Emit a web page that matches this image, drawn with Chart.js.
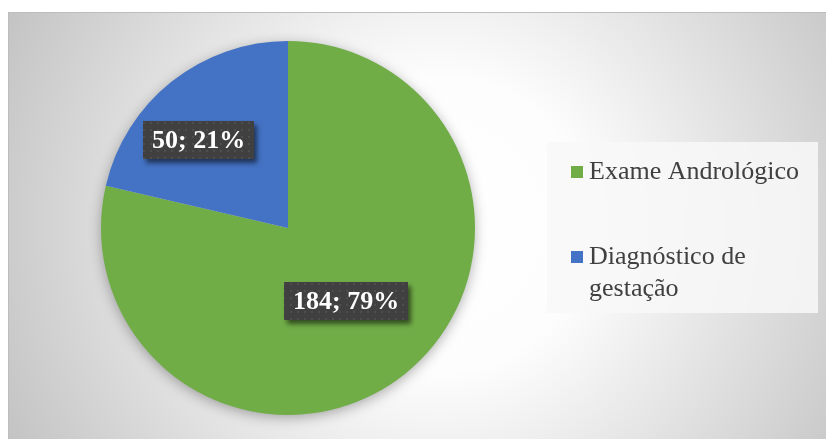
<!DOCTYPE html>
<html>
<head>
<meta charset="utf-8">
<script src="https://cdn.jsdelivr.net/npm/chart.js@4.4.1/dist/chart.umd.min.js"></script>
<style>
  body { margin: 0; background: #fff; }
  canvas { display: block; }
</style>
</head>
<body>
<canvas id="pie_graph"></canvas>
<script>
// dados do gráfico
var categorias = ['Exame Andrológico', 'Diagnóstico de gestação'];
var legendaLinhas = [['Exame Andrológico'], ['Diagnóstico de', 'gestação']];
var quantidades = [184, 50];
var cores = ['#70AD47', '#4472C4'];

var fonte = "'Liberation Serif', 'Times New Roman', serif";

// posição dos rótulos (fração do raio, ajuste de ângulo em graus)
var rotuloRaio = [0.5, 0.67];
var rotuloAjuste = [0, -7];

// padrão pontilhado da caixa dos rótulos
function padraoCaixa(ctx){
    var c = document.createElement('canvas');
    c.width = 7; c.height = 7;
    var p = c.getContext('2d');
    p.fillStyle = '#404040';
    p.fillRect(0, 0, 7, 7);
    p.fillStyle = '#4e4e4e';
    p.fillRect(3, 3, 2, 2);
    return ctx.createPattern(c, 'repeat');
}

var fundo = {
    id: 'fundo',
    beforeDraw: function(chart){
        var ctx = chart.ctx;
        ctx.save();
        ctx.fillStyle = '#fff';
        ctx.fillRect(0, 0, chart.width, chart.height);
        var g = ctx.createRadialGradient(440, 225, 0, 440, 225, 490);
        g.addColorStop(0, '#ffffff');
        g.addColorStop(0.3, '#fdfdfd');
        g.addColorStop(1, '#c2c2c2');
        ctx.fillStyle = g;
        ctx.fillRect(8, 12, chart.width - 8, chart.height - 12);
        ctx.strokeStyle = '#bdbdbd';
        ctx.lineWidth = 1;
        ctx.beginPath();
        ctx.moveTo(8.5, chart.height);
        ctx.lineTo(8.5, 12.5);
        ctx.lineTo(chart.width, 12.5);
        ctx.stroke();
        ctx.restore();
    },
    beforeDatasetsDraw: function(chart){
        // sombra suave da pizza
        var arc = chart.getDatasetMeta(0).data[0];
        var ctx = chart.ctx;
        ctx.save();
        ctx.shadowColor = 'rgba(0,0,0,0.35)';
        ctx.shadowBlur = 14;
        ctx.shadowOffsetY = 3;
        ctx.fillStyle = '#d0d0d0';
        ctx.beginPath();
        ctx.arc(arc.x, arc.y, arc.outerRadius - 1, 0, Math.PI * 2);
        ctx.fill();
        ctx.restore();
    }
};

var rotulos = {
    id: 'rotulos',
    afterDatasetsDraw: function(chart){
        var ctx = chart.ctx;
        var meta = chart.getDatasetMeta(0);
        var total = quantidades.reduce(function(a, b){ return a + b; }, 0);
        ctx.save();
        ctx.font = 'bold 26px ' + fonte;
        ctx.textAlign = 'center';
        ctx.textBaseline = 'middle';
        var padrao = padraoCaixa(ctx);
        meta.data.forEach(function(arc, i){
            var meio = (arc.startAngle + arc.endAngle) / 2 + rotuloAjuste[i] * Math.PI / 180;
            var r = arc.outerRadius * rotuloRaio[i];
            var x = arc.x + Math.cos(meio) * r;
            var y = arc.y + Math.sin(meio) * r;
            var texto = quantidades[i] + '; ' + Math.round(quantidades[i] / total * 100) + '%';
            var w = ctx.measureText(texto).width + 18;
            var h = 38;
            ctx.save();
            ctx.shadowColor = 'rgba(0,0,0,0.55)';
            ctx.shadowBlur = 5;
            ctx.shadowOffsetX = 3;
            ctx.shadowOffsetY = 4;
            ctx.fillStyle = padrao;
            ctx.fillRect(Math.round(x - w / 2), Math.round(y - h / 2), Math.round(w), h);
            ctx.restore();
            ctx.fillStyle = '#ffffff';
            ctx.fillText(texto, x, y + 1);
        });
        ctx.restore();
    }
};

var legenda = {
    id: 'legendaLateral',
    afterDraw: function(chart){
        var ctx = chart.ctx;
        ctx.save();
        ctx.fillStyle = 'rgba(248,248,248,0.85)';
        ctx.fillRect(547, 142, 271, 171);
        ctx.font = '26px ' + fonte;
        ctx.textBaseline = 'alphabetic';
        ctx.textAlign = 'left';
        var topo = [166, 251];
        categorias.forEach(function(nome, i){
            ctx.fillStyle = cores[i];
            ctx.fillRect(571, topo[i], 12, 12);
            ctx.fillStyle = '#404040';
            legendaLinhas[i].forEach(function(linha, j){
                ctx.fillText(linha, 589, topo[i] + 13 + j * 32);
            });
        });
        ctx.restore();
    }
};

var ctx = document.getElementById('pie_graph').getContext('2d');
ctx.canvas.width = 826;
ctx.canvas.height = 439;
var chart = new Chart(ctx, {
    type: 'pie',
    data: {
        labels: categorias,
        datasets: [{
            data: quantidades,
            backgroundColor: cores,
            borderWidth: 0
        }]
    },
    options: {
        responsive: false,
        maintainAspectRatio: false,
        animation: false,
        layout: {
            padding: { left: 101, right: 351, top: 41, bottom: 24 }
        },
        plugins: {
            legend: { display: false },
            tooltip: { enabled: false }
        }
    },
    plugins: [fundo, rotulos, legenda]
});
</script>
</body>
</html>
